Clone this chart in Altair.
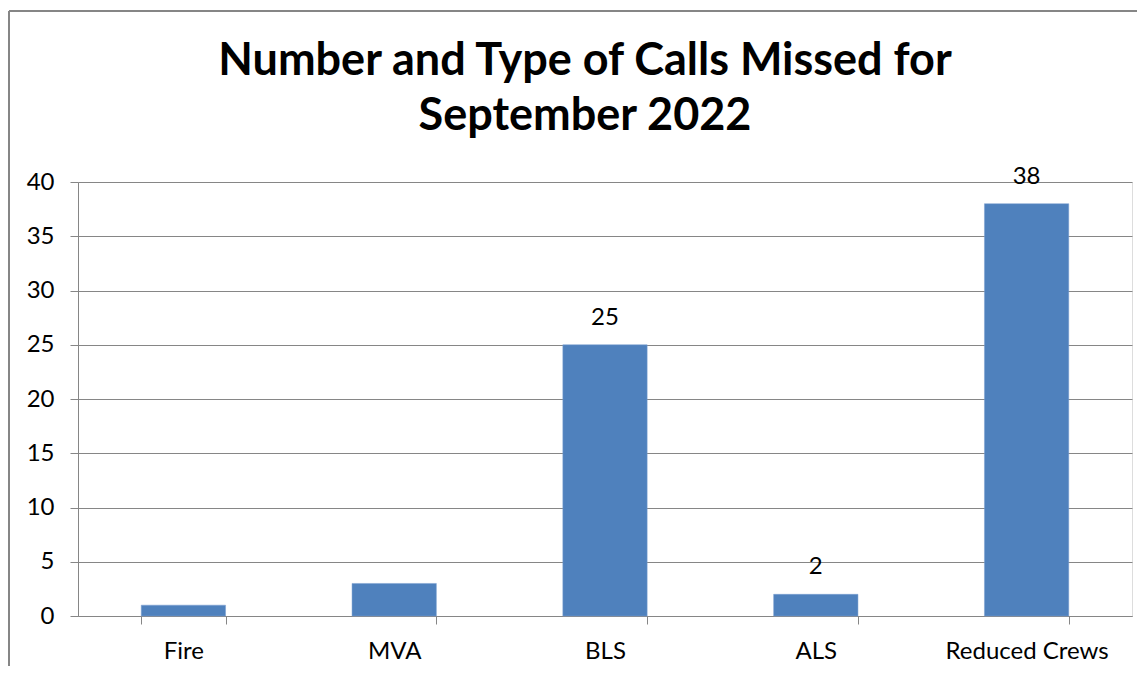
import altair as alt
import pandas as pd

categories = ["Fire", "MVA", "BLS", "ALS", "Reduced Crews"]
values = [1, 3, 25, 2, 38]
show_label = [False, False, True, True, True]
title_lines = ["Number and Type of Calls Missed for", "September 2022"]

df = pd.DataFrame({
    "cat": categories,
    "val": values,
    "lab": [str(v) if s else "" for v, s in zip(values, show_label)],
})

FONT = "Lato"
GRAY = "#868686"
W, H = 1054, 434
FS = 24

x_enc = alt.X("cat:N", sort=categories,
              scale=alt.Scale(paddingInner=0.6, paddingOuter=0.3),
              axis=alt.Axis(title=None, labelAngle=0, tickBand="extent",
                            labelFontSize=FS, labelFont=FONT, labelColor="#000",
                            labelPadding=15, tickSize=8, tickColor=GRAY,
                            domainColor=GRAY, grid=False, labelBaseline="top"))
y_enc = alt.Y("val:Q", scale=alt.Scale(domain=[0, 40], nice=False),
              axis=alt.Axis(title=None, values=list(range(0, 45, 5)),
                            labelFontSize=FS, labelFont=FONT, labelColor="#000",
                            labelPadding=16, tickSize=8, tickColor=GRAY,
                            domainColor=GRAY, gridColor=GRAY, grid=True))

bars = alt.Chart(df).mark_bar(color="#4F81BD", stroke="#7A9FD0", strokeWidth=0.5).encode(
    x=x_enc, y=y_enc)

labels = alt.Chart(df).mark_text(fontSize=FS, font=FONT, color="#000",
                                 baseline="alphabetic", dy=-20).encode(
    x=alt.X("cat:N", sort=categories), y="val:Q", text="lab:N")

border_left = alt.Chart(df).mark_rule(color=GRAY, strokeWidth=2).encode(
    x=alt.value(-69), y=alt.value(-171), y2=alt.value(H + 50))
border_top = alt.Chart(df).mark_rule(color=GRAY, strokeWidth=2).encode(
    x=alt.value(-69), x2=alt.value(W + 5), y=alt.value(-171))

chart = alt.layer(bars, labels, border_left, border_top).properties(
    width=W, height=H,
    autosize=alt.AutoSizeParams(type="none"),
    padding={"left": 70, "top": 174, "right": 5, "bottom": 50},
    title=alt.TitleParams(title_lines, font=FONT, fontSize=45, fontWeight="bold",
                          color="#000", anchor="middle", dx=-20, offset=-129,
                          lineHeight=55, frame="group"),
).configure_view(stroke=None).configure(background="white")

chart.save("out.html", embed_options={"renderer": "svg", "actions": False})
